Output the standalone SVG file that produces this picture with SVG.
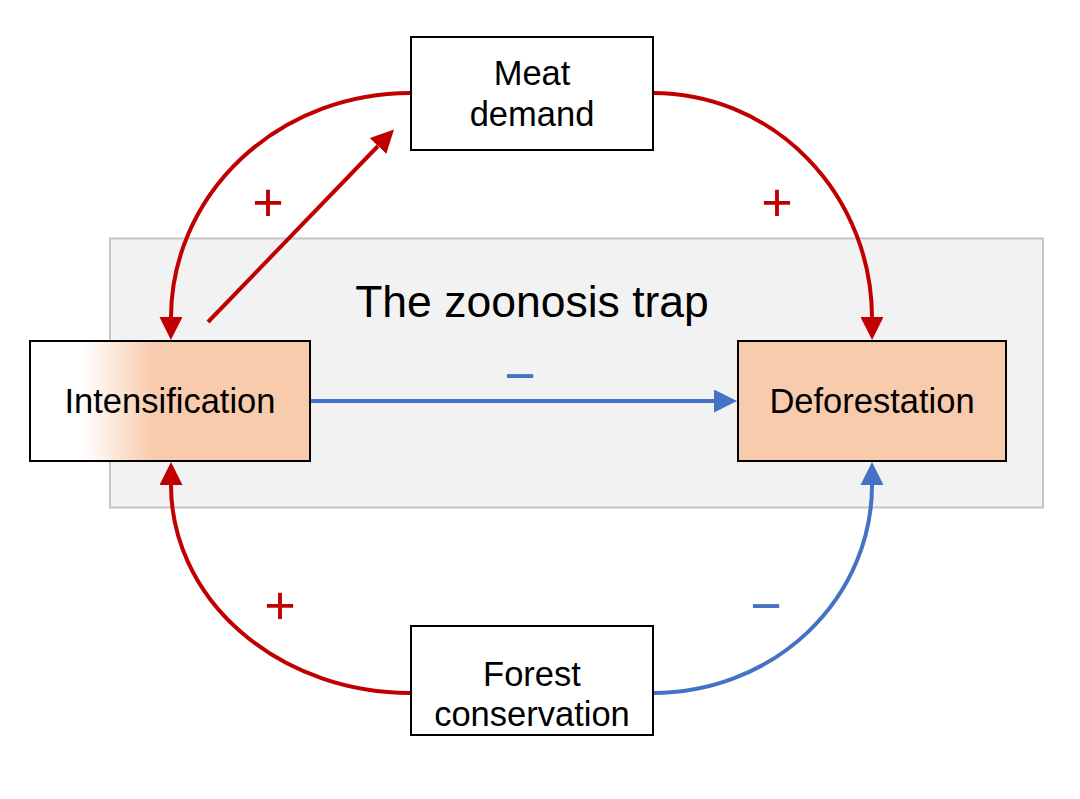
<svg xmlns="http://www.w3.org/2000/svg" width="1080" height="799" viewBox="0 0 1080 799">
<style>
.box{stroke:#000;stroke-width:2}
.lbl{font-family:"Liberation Sans",Arial,sans-serif;font-size:34.5px;fill:#000;text-anchor:middle}
.title{font-family:"Liberation Sans",Arial,sans-serif;font-size:44.5px;fill:#000;text-anchor:middle}
.sign{font-family:"Liberation Sans",Arial,sans-serif;font-size:54px;text-anchor:middle}
.red{fill:none;stroke:#c00000;stroke-width:4}
.blue{fill:none;stroke:#4472c4;stroke-width:4}
</style>
<defs>
<linearGradient id="gInt" gradientUnits="userSpaceOnUse" x1="30" y1="0" x2="310" y2="0">
<stop offset="0.19" stop-color="#ffffff"/>
<stop offset="0.44" stop-color="#f8cbad"/>
<stop offset="1" stop-color="#f8cbad"/>
</linearGradient>
<marker id="aRed" markerUnits="userSpaceOnUse" markerWidth="23" markerHeight="23" refX="0" refY="11.5" orient="auto">
<path d="M0,0 L23,11.5 L0,23 z" fill="#c00000"/>
</marker>
<marker id="aBlue" markerUnits="userSpaceOnUse" markerWidth="23" markerHeight="23" refX="0" refY="11.5" orient="auto">
<path d="M0,0 L23,11.5 L0,23 z" fill="#4472c4"/>
</marker>
</defs>
<rect x="0" y="0" width="1080" height="799" fill="#fff"/>
<g id="trap">
<rect x="110" y="238.5" width="933" height="269" fill="#f2f2f2" stroke="#c4c4c4" stroke-width="2"/>
<text class="title" x="532" y="317">The zoonosis trap</text>
</g>
<g id="connectors">
<path class="red" d="M410,93 A239,225 0 0 0 171,317" marker-end="url(#aRed)"/>
<path class="red" d="M653,93 A219,225 0 0 1 872,317" marker-end="url(#aRed)"/>
<path class="red" d="M410,693 A239,208 0 0 1 171,485" marker-end="url(#aRed)"/>
<path class="blue" d="M653,693 A219,208 0 0 0 872,485" marker-end="url(#aBlue)"/>
<path class="red" d="M208,322 L378,146" marker-end="url(#aRed)"/>
<path class="blue" d="M310,401 L714,401" marker-end="url(#aBlue)"/>
<text class="sign" x="268" y="221" fill="#c00000">+</text>
<text class="sign" x="777" y="221" fill="#c00000">+</text>
<text class="sign" x="280" y="624" fill="#c00000">+</text>
<text class="sign" x="520" y="394" fill="#4472c4">−</text>
<text class="sign" x="766" y="624" fill="#4472c4">−</text>
</g>
<g id="meat">
<rect class="box" x="411" y="37" width="242" height="113" fill="#fff"/>
<text class="lbl" x="532" y="85">Meat</text>
<text class="lbl" x="532" y="126">demand</text>
</g>
<g id="forest">
<rect class="box" x="411" y="626" width="242" height="109" fill="#fff"/>
<text class="lbl" x="532" y="686">Forest</text>
<text class="lbl" x="532" y="726">conservation</text>
</g>
<g id="intensification">
<rect class="box" x="30" y="341" width="280" height="120" fill="url(#gInt)"/>
<text class="lbl" x="170" y="413">Intensification</text>
</g>
<g id="deforestation">
<rect class="box" x="738" y="341" width="268" height="120" fill="#f8cbad"/>
<text class="lbl" x="872" y="413">Deforestation</text>
</g>
</svg>
